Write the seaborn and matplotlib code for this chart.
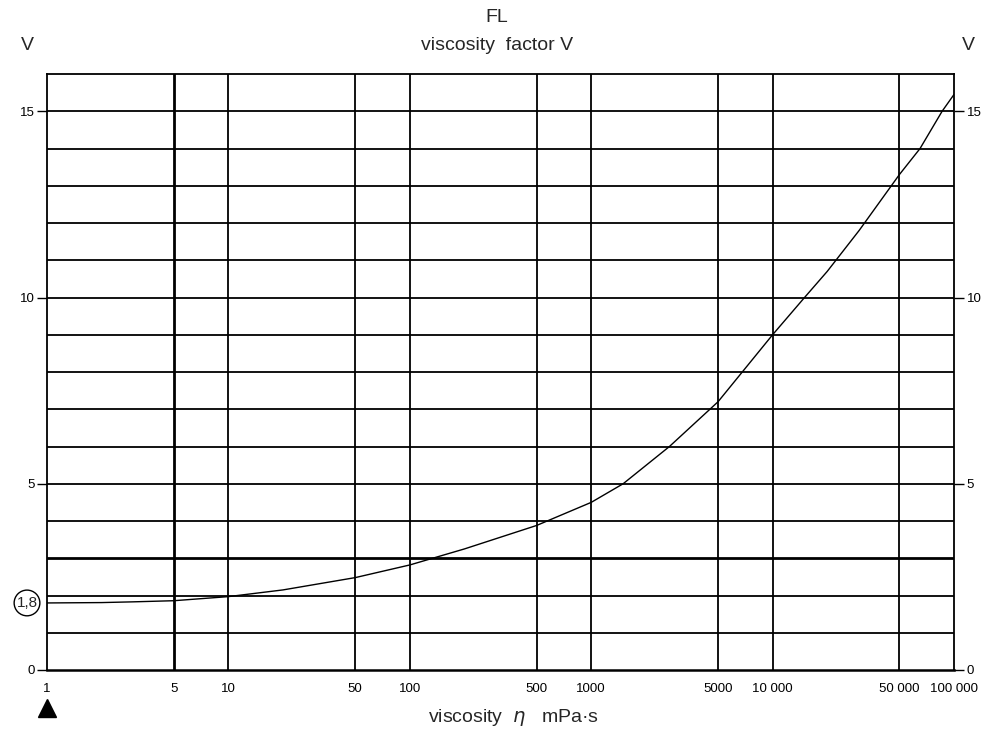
import matplotlib
matplotlib.use("Agg")
import matplotlib.pyplot as plt
import matplotlib.transforms as mtransforms
from matplotlib.ticker import FixedLocator, NullFormatter
import seaborn as sns
import pandas as pd

# Viscosity factor curve (viscosity in mPa·s, factor V)
viscosity = [1, 2, 3, 5, 10, 20, 50, 100, 200, 500, 1000, 1500, 2700,
             5000, 10000, 15000, 20000, 30000, 50000, 65000, 86000, 100000]
factor_v = [1.80, 1.81, 1.83, 1.86, 1.97, 2.15, 2.48, 2.82, 3.25, 3.88, 4.50,
            5.00, 6.00, 7.20, 9.00, 10.00, 10.70, 11.80, 13.30, 14.00, 15.00, 15.45]

# Axis ticks and guides
x_major = [1, 5, 10, 50, 100, 500, 1000, 5000, 10000, 50000, 100000]
x_labels = ["1", "5", "10", "50", "100", "500", "1000", "5000",
            "10 000", "50 000", "100 000"]
x_minor = [2, 3, 4, 6, 7, 8, 9, 20, 30, 40, 60, 70, 80, 90,
           200, 300, 400, 600, 700, 800, 900, 2000, 3000, 4000, 6000, 7000,
           8000, 9000, 20000, 30000, 40000, 60000, 70000, 80000, 90000]
x_grid = [5, 10, 50, 100, 500, 1000, 5000, 10000, 50000]
y_ticks = [0, 5, 10, 15]
y_grid = list(range(1, 16))
ref_x = 5
ref_y = 3
start_label = "1,8"

df = pd.DataFrame({"viscosity": viscosity, "V": factor_v})

sns.set_style("white")
plt.rcParams["font.family"] = ["Liberation Sans", "DejaVu Sans"]

fig = plt.figure(figsize=(9.94, 7.34), dpi=100)
ax = fig.add_axes([47 / 994, 64 / 734, 907 / 994, 596 / 734])

# grid
for gx in x_grid:
    lw = 2.0 if gx == ref_x else 1.3
    ax.axvline(gx, color="black", lw=lw, zorder=1)
for gy in y_grid:
    lw = 2.0 if gy == ref_y else 1.3
    ax.axhline(gy, color="black", lw=lw, zorder=1)

sns.lineplot(data=df, x="viscosity", y="V", ax=ax, color="black",
             lw=1.0, zorder=3)

ax.set_xscale("log")
ax.set_xlim(1, 100000)
ax.set_ylim(0, 16)

ax.xaxis.set_major_locator(FixedLocator(x_major))
ax.set_xticklabels(x_labels)
ax.xaxis.set_minor_locator(FixedLocator(x_minor))
ax.xaxis.set_minor_formatter(NullFormatter())
ax.set_yticks(y_ticks)
ax.set_yticklabels([str(t) for t in y_ticks])

ax.tick_params(axis="x", which="major", direction="out", length=6, width=1.2,
               labelsize=9.5, pad=3, colors="black")
ax.tick_params(axis="x", which="minor", direction="out", length=5, width=1.2)
ax.tick_params(axis="y", which="major", direction="out", length=7, width=1.0,
               labelsize=9.5, pad=2, left=True, right=True,
               labelleft=True, labelright=True, colors="black")

for sp in ax.spines.values():
    sp.set_color("black")
    sp.set_linewidth(1.3)
ax.spines["bottom"].set_linewidth(1.8)

ax.set_xlabel("")
ax.set_ylabel("")

# titles, axis caption and unit labels
fig.text(0.5, 1 - 18 / 734, "FL", ha="center", va="center", fontsize=14)
fig.text(0.5, 1 - 45 / 734, "viscosity  factor V", ha="center", va="center",
         fontsize=14)
fig.text(27 / 994, 1 - 45 / 734, "V", ha="center", va="center", fontsize=14)
fig.text(968 / 994, 1 - 45 / 734, "V", ha="center", va="center", fontsize=14)
fig.text(0.5 + 16 / 994, 1 - 717 / 734, "viscosity  $\\eta$   mPa·s",
         ha="center", va="center", fontsize=14)

# circled start value and arrow below the first tick
trans = mtransforms.blended_transform_factory(fig.transFigure, ax.transData)
ax.text(27 / 994, factor_v[0], start_label, transform=trans, ha="center",
        va="center", fontsize=11,
        bbox=dict(boxstyle="circle,pad=0.15", fc="white", ec="black", lw=1))
trans_arrow = mtransforms.blended_transform_factory(ax.transData, fig.transFigure)
ax.plot([viscosity[0]], [26 / 734], marker="^", ms=13, color="black",
        transform=trans_arrow, clip_on=False)
ax.plot([viscosity[0], viscosity[0]], [18 / 734, 28 / 734], color="black",
        lw=1.5, transform=trans_arrow, clip_on=False)

fig.savefig("out.png", dpi=100)
